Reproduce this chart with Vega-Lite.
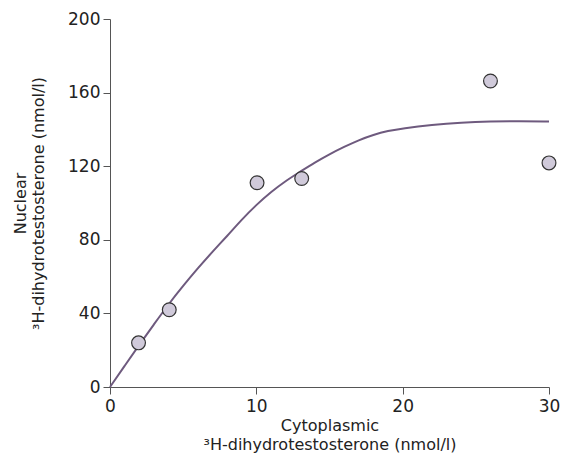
{
  "$schema": "https://vega.github.io/schema/vega-lite/v6.json",
  "autosize": "none",
  "width": 439,
  "height": 368,
  "padding": {"left": 110, "top": 19, "right": 14, "bottom": 73},
  "background": "white",
  "config": {
    "view": {"stroke": null},
    "font": "DejaVu Sans",
    "axis": {
      "grid": false,
      "domainColor": "#555555",
      "tickColor": "#555555",
      "tickSize": 7,
      "labelFlush": false,
      "labelFont": "DejaVu Sans",
      "labelFontSize": 17,
      "labelColor": "#222222",
      "titleFont": "DejaVu Sans",
      "titleFontSize": 16,
      "titleFontWeight": "normal",
      "titleColor": "#222222"
    }
  },
  "datasets": {
    "curve": [
      {"x": 0, "y": 0}, {"x": 1, "y": 11.5}, {"x": 2, "y": 23}, {"x": 3, "y": 34}, {"x": 4, "y": 45},
      {"x": 5, "y": 55}, {"x": 6, "y": 64.5}, {"x": 7, "y": 73.5}, {"x": 8, "y": 82}, {"x": 9, "y": 91},
      {"x": 10, "y": 99}, {"x": 11, "y": 106}, {"x": 12, "y": 112}, {"x": 13, "y": 117}, {"x": 14, "y": 122},
      {"x": 15, "y": 126.5}, {"x": 16, "y": 130.5}, {"x": 17, "y": 134.2}, {"x": 18, "y": 137.1}, {"x": 19, "y": 139.2},
      {"x": 20, "y": 140.6}, {"x": 22, "y": 142.5}, {"x": 24, "y": 143.7}, {"x": 26, "y": 144.3}, {"x": 28, "y": 144.5},
      {"x": 30, "y": 144.3}
    ],
    "points": [
      {"x": 1.95, "y": 24}, {"x": 4.05, "y": 42}, {"x": 10.05, "y": 111},
      {"x": 13.1, "y": 113.3}, {"x": 26, "y": 166.3}, {"x": 30, "y": 121.8}
    ]
  },
  "layer": [
    {
      "data": {"name": "curve"},
      "mark": {"type": "line", "color": "#6e5a7e", "strokeWidth": 2, "interpolate": "basis"},
      "encoding": {
        "x": {
          "field": "x", "type": "quantitative",
          "scale": {"domain": [0, 30], "nice": false},
          "axis": {"values": [0, 10, 20, 30], "labelPadding": 4, "titlePadding": 3, "titleLineHeight": 19,
                   "title": ["Cytoplasmic", "³H-dihydrotestosterone (nmol/l)"]}
        },
        "y": {
          "field": "y", "type": "quantitative",
          "scale": {"domain": [0, 200], "nice": false},
          "axis": {"values": [0, 40, 80, 120, 160, 200], "labelPadding": 3, "titlePadding": 21, "titleLineHeight": 18,
                   "title": ["Nuclear", "³H-dihydrotestosterone (nmol/l)"]}
        }
      }
    },
    {
      "data": {"name": "points"},
      "mark": {"type": "point", "filled": true, "fill": "#d0cada", "stroke": "#333333", "strokeWidth": 1.2, "opacity": 1, "size": 190},
      "encoding": {
        "x": {"field": "x", "type": "quantitative"},
        "y": {"field": "y", "type": "quantitative"}
      }
    }
  ]
}
